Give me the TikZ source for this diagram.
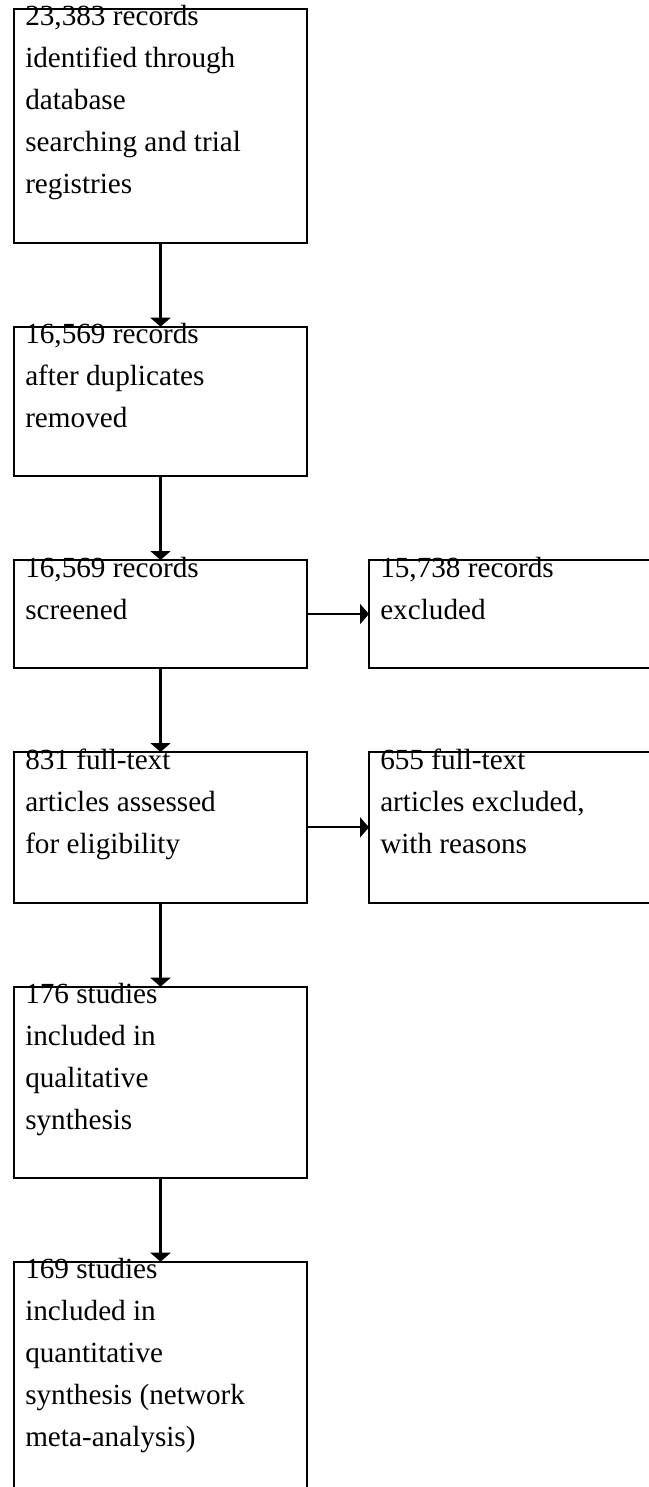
\documentclass[tikz,border=0pt]{standalone}
\usepackage{fontspec}
\setmainfont{Liberation Serif}
\usetikzlibrary{arrows.meta}

\newcommand{\boxtext}[1]{\parbox[t]{210pt}{\raggedright #1}}

\begin{document}
\begin{tikzpicture}[x=0.75pt, y=-0.75pt,
  every node/.style={font=\fontsize{21.9}{31.5}\selectfont},
  box/.style={draw, line width=1.6pt, anchor=north west, minimum width=219.75pt, inner sep=0pt, outer sep=0pt},
  txt/.style={anchor=base west, inner sep=0pt},
  arr/.style={-{Triangle[length=6.75pt, width=15pt]}, line width=1.6pt}]

  %% Page frame (boxes run off the right and bottom edges)
  \path[use as bounding box, clip] (0,0) rectangle (649,1487);

  %% Main column
  \node[box, minimum height=175.5pt]  (ident)  at (14,8.7)    {};
  \node[box, minimum height=112pt]    (dedup)  at (14,326.7)  {};
  \node[box, minimum height=81pt]     (screen) at (14,560)    {};
  \node[box, minimum height=113pt]    (full)   at (14,752)    {};
  \node[box, minimum height=143.5pt]  (qual)   at (14,986.7)  {};
  \node[box, minimum height=175.5pt]  (quant)  at (14,1261.7) {};

  %% Exclusion column
  \node[box, minimum height=81pt]     (excl)     at (369,560) {};
  \node[box, minimum height=113pt]    (fullexcl) at (369,752) {};

  %% Texts
  \node[txt] at ([shift={(11,17)}]ident.north west)
    {\boxtext{23,383 records\\identified through\\database\\searching and trial\\registries}};
  \node[txt] at ([shift={(11,17)}]dedup.north west)
    {\boxtext{16,569 records\\after duplicates\\removed}};
  \node[txt] at ([shift={(11,17)}]screen.north west)
    {\boxtext{16,569 records\\screened}};
  \node[txt] at ([shift={(11,17)}]full.north west)
    {\boxtext{831 full-text\\articles assessed\\for eligibility}};
  \node[txt] at ([shift={(11,17)}]qual.north west)
    {\boxtext{176 studies\\included in\\qualitative\\synthesis}};
  \node[txt] at ([shift={(11,17)}]quant.north west)
    {\boxtext{169 studies\\included in\\quantitative\\synthesis (network\\meta-analysis)}};
  \node[txt] at ([shift={(11,17)}]excl.north west)
    {\boxtext{15,738 records\\excluded}};
  \node[txt] at ([shift={(11,17)}]fullexcl.north west)
    {\boxtext{655 full-text\\articles excluded,\\with reasons}};

  %% Connectors
  \draw[arr] (ident.south)  -- (dedup.north);
  \draw[arr] (dedup.south)  -- (screen.north);
  \draw[arr] (screen.south) -- (full.north);
  \draw[arr] (full.south)   -- (qual.north);
  \draw[arr] (qual.south)   -- (quant.north);
  \draw[arr] (screen.east)  -- (excl.west);
  \draw[arr] (full.east)    -- (fullexcl.west);

\end{tikzpicture}
\end{document}
